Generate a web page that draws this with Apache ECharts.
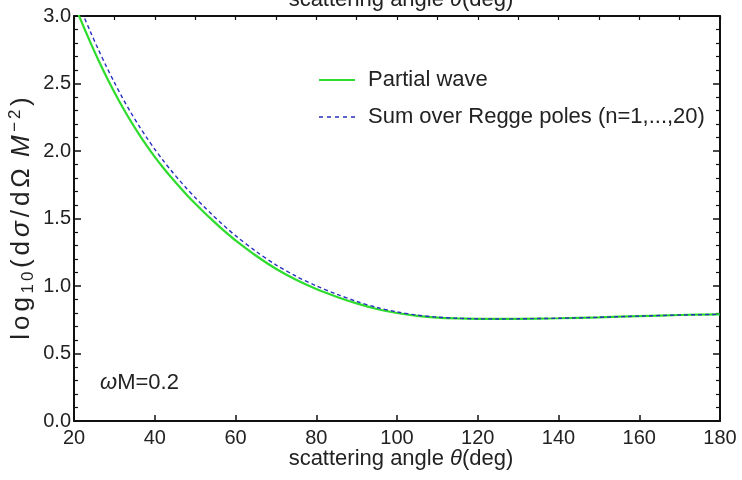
<!DOCTYPE html>
<html>
<head>
<meta charset="utf-8">
<script src="https://cdn.jsdelivr.net/npm/echarts@6/dist/echarts.min.js"></script>
<style>
html,body{margin:0;padding:0;background:#fff;}
#chart{width:742px;height:480px;}
</style>
</head>
<body>
<div id="chart"></div>
<script>
// scattering angle (deg)
const theta = [20,22,24,26,28,30,32,34,36,38,40,42,44,46,48,50,52,54,56,58,60,65,70,75,80,85,90,95,100,105,110,115,120,125,130,140,150,160,170,180];
// log10(dσ/dΩ M^-2), partial wave
const partialWave = [3.092,2.947,2.808,2.676,2.552,2.436,2.326,2.224,2.129,2.040,1.957,1.880,1.807,1.739,1.673,1.611,1.552,1.495,1.440,1.388,1.338,1.226,1.128,1.046,0.978,0.921,0.871,0.830,0.800,0.779,0.766,0.760,0.757,0.756,0.757,0.761,0.768,0.777,0.785,0.790];
// sum over Regge poles (n=1..20)
const reggeSum = [3.172,3.027,2.888,2.754,2.627,2.508,2.394,2.289,2.191,2.099,2.013,1.933,1.857,1.787,1.719,1.655,1.594,1.535,1.478,1.424,1.373,1.258,1.157,1.072,1.001,0.940,0.886,0.841,0.808,0.784,0.769,0.761,0.757,0.756,0.757,0.761,0.768,0.777,0.785,0.790];
const xTicks = [20,40,60,80,100,120,140,160,180];
const yTicks = [0.0,0.5,1.0,1.5,2.0,2.5,3.0];
const seriesNames = ['Partial wave','Sum over Regge poles (n=1,...,20)'];
const xTitle = [['scattering angle ','n'],['θ','i'],['(deg)','n']];
const yTitle = [['log','n'],['10','s'],['(d','n'],['σ','i'],['/dΩ','n'],[' ','w'],['M','i'],['−2','p'],[')','n']];
const annotation = [['ω','i'],['M=0.2','n']];

const FONT = '"Liberation Sans", Arial, sans-serif';
const TXT = '#222';
const GREEN = '#2ddc2d';
const BLUE = '#2a2fc0';
const chart = echarts.init(document.getElementById('chart'), null, {renderer:'canvas'});

const pw = theta.map((t,i)=>[t, partialWave[i]]);
const rs = theta.map((t,i)=>[t, reggeSum[i]]);

const rich = parts => parts.map(([t,s])=>'{'+s+'|'+t+'}').join('');
// y title: each character as its own fragment so it can be letter-spaced
const richSpaced = parts => parts.map(([t,s])=>Array.from(t).map(c=>'{'+s+'|'+c+'}').join('')).join('');

const titleRich = {n:{fontFamily:FONT,fontSize:22,color:TXT},i:{fontFamily:FONT,fontSize:22,color:TXT,fontStyle:'italic'}};

const option = {
  animation:false,
  backgroundColor:'#fff',
  textStyle:{fontFamily:FONT},
  grid:{left:74, right:22, top:16, bottom:59, containLabel:false, outerBoundsMode:'none'},
  legend:{
    orient:'vertical', left:314, top:64,
    itemWidth:36, itemHeight:14, itemGap:15,
    textStyle:{fontFamily:FONT, fontSize:22, color:TXT, padding:[0,0,0,8]},
    data:[
      {name:seriesNames[0], icon:'path://M0,0h36v2.2h-36z', itemStyle:{color:GREEN}},
      {name:seriesNames[1], icon:'path://M0,0h4v1.6h-4z M8,0h4v1.6h-4z M16,0h4v1.6h-4z M24,0h4v1.6h-4z M32,0h4v1.6h-4z', itemStyle:{color:BLUE}}
    ]
  },
  xAxis:[{
    type:'value', min:xTicks[0], max:xTicks[xTicks.length-1], interval:20,
    position:'bottom',
    name:rich(xTitle),
    nameLocation:'middle', nameGap:27, nameMoveOverlap:false,
    nameTextStyle:{rich:titleRich, padding:[0,0,0,8]},
    axisLine:{show:true, onZero:false, lineStyle:{color:'#111', width:2}},
    axisTick:{show:true, inside:true, length:6, lineStyle:{color:'#111', width:1.5}},
    minorTick:{show:false},
    axisLabel:{fontFamily:FONT, fontSize:20, color:TXT, margin:7},
    splitLine:{show:false}
  },{
    type:'value', min:20, max:180, interval:10,
    position:'top',
    name:rich(xTitle),
    nameLocation:'middle', nameGap:5, nameMoveOverlap:false,
    nameTextStyle:{rich:titleRich, padding:[0,0,0,8]},
    axisLine:{show:true, onZero:false, lineStyle:{color:'#111', width:2}},
    axisTick:{show:true, inside:true, length:4, lineStyle:{color:'#111', width:1.2}},
    axisLabel:{show:false},
    splitLine:{show:false}
  }],
  yAxis:[{
    type:'value', min:yTicks[0], max:yTicks[yTicks.length-1], interval:0.5,
    position:'left',
    name:richSpaced(yTitle),
    nameLocation:'middle', nameRotate:90, nameGap:37, nameMoveOverlap:false,
    nameTextStyle:{rich:{
      n:{fontFamily:FONT,fontSize:26,color:TXT,lineHeight:30,padding:[0,2,0,2]},
      w:{fontFamily:FONT,fontSize:26,color:TXT,lineHeight:30},
      i:{fontFamily:FONT,fontSize:26,color:TXT,fontStyle:'italic',lineHeight:30,padding:[0,2,0,2]},
      s:{fontFamily:FONT,fontSize:17,color:TXT,verticalAlign:'bottom',lineHeight:30,padding:[0,1.5,0,1.5]},
      p:{fontFamily:FONT,fontSize:17,color:TXT,verticalAlign:'top',lineHeight:30,padding:[0,1.5,0,1.5]}
    }},
    axisLine:{show:true, onZero:false, lineStyle:{color:'#111', width:2}},
    axisTick:{show:true, inside:true, length:7, lineStyle:{color:'#111', width:1.5}},
    minorTick:{show:true, splitNumber:5, length:4, lineStyle:{color:'#111', width:1.2}},
    axisLabel:{fontFamily:FONT, fontSize:20, color:TXT, margin:3, formatter:v=>v.toFixed(1)},
    splitLine:{show:false}, minorSplitLine:{show:false}
  },{
    type:'value', min:0, max:3, interval:0.5,
    position:'right',
    axisLine:{show:true, onZero:false, lineStyle:{color:'#111', width:2}},
    axisTick:{show:true, inside:true, length:7, lineStyle:{color:'#111', width:1.5}},
    minorTick:{show:true, splitNumber:5, length:4, lineStyle:{color:'#111', width:1.2}},
    axisLabel:{show:false},
    splitLine:{show:false}, minorSplitLine:{show:false}
  }],
  series:[{
    name:seriesNames[0], type:'line', data:pw, smooth:0.3, symbol:'none', clip:true,
    xAxisIndex:0, yAxisIndex:0,
    lineStyle:{color:GREEN, width:2.2}, itemStyle:{color:GREEN}, z:2
  },{
    name:seriesNames[1], type:'line', data:rs, smooth:0.3, symbol:'none', clip:true,
    xAxisIndex:0, yAxisIndex:0,
    lineStyle:{color:BLUE, width:1.4, type:[4,3]}, itemStyle:{color:BLUE}, z:3
  }],
  graphic:[{
    type:'text', left:100, top:372,
    style:{
      text:rich(annotation),
      rich:{i:{fontFamily:FONT,fontSize:22,fill:TXT,fontStyle:'italic'},n:{fontFamily:FONT,fontSize:22,fill:TXT}}
    }
  }]
};
chart.setOption(option);
</script>
</body>
</html>
